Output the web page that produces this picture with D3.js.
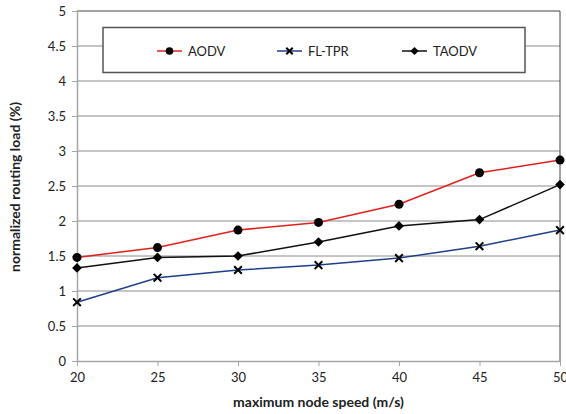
<!DOCTYPE html>
<html>
<head>
<style>
body {margin:0; background:#fff;}
svg {display:block; font-family: Lato, "Open Sans", sans-serif;}
</style>
</head>
<body>
<div id="chart"></div>
<script src="https://d3js.org/d3.v7.min.js"></script>
<script>
// data
var speeds = [20, 25, 30, 35, 40, 45, 50]
var aodv   = [1.48, 1.62, 1.87, 1.98, 2.24, 2.69, 2.87]
var fltpr  = [0.84, 1.19, 1.30, 1.37, 1.47, 1.64, 1.87]
var taodv  = [1.33, 1.48, 1.50, 1.70, 1.93, 2.02, 2.52]
var yTicks = [0, 0.5, 1, 1.5, 2, 2.5, 3, 3.5, 4, 4.5, 5]
var seriesNames = ["AODV", "FL-TPR", "TAODV"]

var width = 566, height = 414
var margin = {top: 11, right: 6, bottom: 53, left: 77}

var svg = d3.select("#chart").append("svg")
  .attr("width", width).attr("height", height)

var x = d3.scaleLinear().domain([20, 50]).range([margin.left, width - margin.right])
var y = d3.scaleLinear().domain([0, 5]).range([height - margin.bottom, margin.top])

// gridlines
svg.append("g").selectAll("line").data(yTicks.slice(1)).enter().append("line")
  .attr("x1", x(20)).attr("x2", x(50))
  .attr("y1", d => y(d)).attr("y2", d => y(d))
  .attr("stroke", d => d === 5 ? "#444" : "#8c8c8c").attr("stroke-width", 1)

// right border
svg.append("line").attr("x1", x(50)).attr("x2", x(50)).attr("y1", y(0)).attr("y2", y(5))
  .attr("stroke", "#444")

// axes
var yAxis = d3.axisLeft(y).tickValues(yTicks).tickSize(5).tickSizeOuter(0).tickPadding(6)
  .tickFormat(d3.format(""))
var gy = svg.append("g").attr("transform", "translate(" + x(20) + ",0)").call(yAxis)
var xAxis = d3.axisBottom(x).tickValues(speeds).tickSize(5).tickSizeOuter(0).tickPadding(7)
var gx = svg.append("g").attr("transform", "translate(0," + y(0) + ")").call(xAxis)
;[gx, gy].forEach(function(g){
  g.select(".domain").attr("stroke", "#a6a6a6").attr("stroke-width", 1.5)
  g.selectAll(".tick line").attr("stroke", "#a6a6a6")
  g.selectAll("text").attr("fill", "#222").style("font-size", "13px").style("font-family", "Lato, sans-serif")
})

// series
var series = [
  {name: seriesNames[0], values: aodv, color: "#e0201b", marker: "circle"},
  {name: seriesNames[1], values: fltpr, color: "#1f3e8c", marker: "cross"},
  {name: seriesNames[2], values: taodv, color: "#111", marker: "diamond"}
]

var line = d3.line().x((d, i) => x(speeds[i])).y(d => y(d))

function drawMarker(g, kind, cx, cy, k) {
  k = k || 1
  if (kind === "circle") {
    g.append("circle").attr("cx", cx).attr("cy", cy).attr("r", 4.5 * k).attr("fill", "#000")
  } else if (kind === "diamond") {
    g.append("path").attr("d", d3.symbol().type(d3.symbolDiamond2).size(60 * k * k)())
      .attr("transform", "translate(" + cx + "," + cy + ")").attr("fill", "#000")
  } else {
    g.append("path").attr("d", d3.symbol().type(d3.symbolTimes).size(40 * k * k)())
      .attr("transform", "translate(" + cx + "," + cy + ")").attr("fill", "none")
      .attr("stroke", "#000").attr("stroke-width", 2)
  }
}

series.forEach(function(s){
  svg.append("path").datum(s.values).attr("d", line)
    .attr("fill", "none").attr("stroke", s.color).attr("stroke-width", 1.5)
  var g = svg.append("g")
  s.values.forEach(function(v, i){ drawMarker(g, s.marker, x(speeds[i]), y(v)) })
})

// legend
svg.append("rect").attr("x", 103).attr("y", 27.5).attr("width", 422).attr("height", 45)
  .attr("fill", "#fff").attr("stroke", "#555").attr("stroke-width", 1.5)
var legX = [157, 277, 402]
series.forEach(function(s, i){
  var lg = svg.append("g")
  lg.append("line").attr("x1", legX[i]).attr("x2", legX[i] + 25).attr("y1", 51).attr("y2", 51)
    .attr("stroke", s.color).attr("stroke-width", 1.5)
  drawMarker(lg, s.marker, legX[i] + 12.5, 51, 0.85)
  lg.append("text").attr("x", legX[i] + 31).attr("y", 55.5).text(s.name)
    .style("font-size", "13px").attr("fill", "#222")
})

// axis titles
svg.append("text").attr("x", (x(20) + x(50)) / 2).attr("y", 407).attr("text-anchor", "middle")
  .style("font-size", "14px").style("font-weight", "bold").attr("fill", "#222")
  .text("maximum node speed (m/s)")
svg.append("text").attr("transform", "translate(20," + 187 + ") rotate(-90)")
  .attr("text-anchor", "middle")
  .style("font-size", "14px").style("font-weight", "bold").attr("fill", "#222")
  .text("normalized routing load (%)")
</script>
</body>
</html>
